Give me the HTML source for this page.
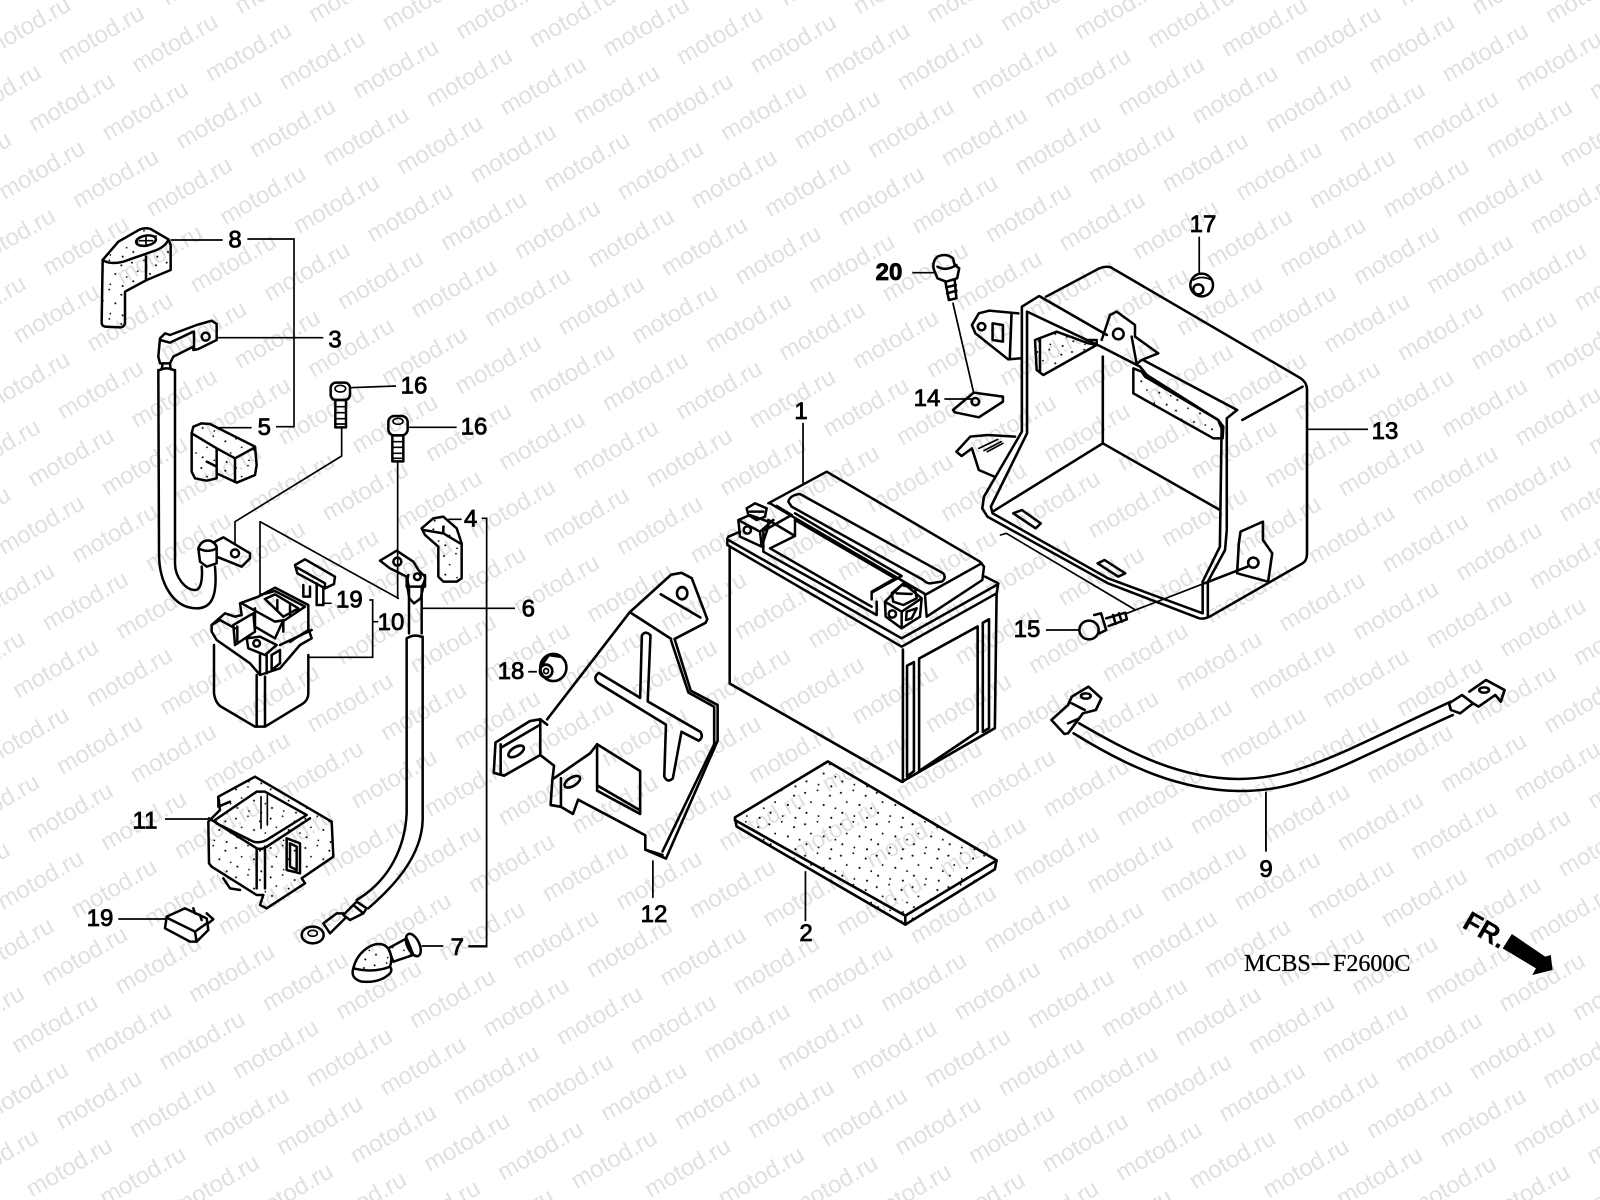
<!DOCTYPE html>
<html><head><meta charset="utf-8"><title>Battery diagram</title>
<style>
html,body{margin:0;padding:0;background:#fff;width:1600px;height:1200px;overflow:hidden}
svg{display:block}
.w{font:24px "Liberation Sans",sans-serif;fill:#e0e0e0}
.l{fill:none;stroke:#000;stroke-width:7.5;stroke-linejoin:round;stroke-linecap:round}
.m{fill:none;stroke:#000;stroke-width:5;stroke-linejoin:round;stroke-linecap:round}
.t{fill:none;stroke:#000;stroke-width:5;stroke-linecap:butt;stroke-linejoin:miter}
.s{fill:url(#d);stroke:#000;stroke-width:7.5;stroke-linejoin:round}
.n{font:72px "Liberation Sans",sans-serif;fill:#000;stroke:#000;stroke-width:2.4;text-anchor:middle}
.r{font:24px "Liberation Sans",sans-serif;fill:#000;stroke:#000;stroke-width:.8;text-anchor:middle}
.k{fill:#000}
</style></head><body>
<svg xmlns="http://www.w3.org/2000/svg" width="1600" height="1200" viewBox="0 0 1600 1200">
<defs>
<pattern id="d" width="104" height="88" patternUnits="userSpaceOnUse">
<circle cx="8" cy="12" r="3"/><circle cx="44" cy="5" r="2.6"/><circle cx="80" cy="20" r="3"/><circle cx="25" cy="38" r="2.6"/><circle cx="62" cy="46" r="3"/><circle cx="96" cy="55" r="2.6"/><circle cx="12" cy="68" r="3"/><circle cx="47" cy="77" r="2.6"/><circle cx="84" cy="82" r="3"/>
</pattern>
<text id="w0" class="w" transform="rotate(-30)">motod.ru</text>
<g id="a1"><use href="#w0"/><use href="#w0" transform="translate(73.6,8.5)"/></g>
<g id="a2"><use href="#a1"/><use href="#a1" transform="translate(147.2,17)"/></g>
<g id="a4"><use href="#a2"/><use href="#a2" transform="translate(294.4,34)"/></g>
<g id="a8"><use href="#a4"/><use href="#a4" transform="translate(588.8,68)"/></g>
<g id="a16"><use href="#a8"/><use href="#a8" transform="translate(1177.6,136)"/></g>
<g id="b1"><use href="#a16"/><use href="#a16" transform="translate(-29.6,67.6)"/></g>
<g id="b2"><use href="#b1"/><use href="#b1" transform="translate(-59.2,135.2)"/></g>
<g id="b4"><use href="#b2"/><use href="#b2" transform="translate(-118.4,270.4)"/></g>
<g id="b8"><use href="#b4"/><use href="#b4" transform="translate(-236.8,540.8)"/></g>
</defs>
<rect width="1600" height="1200" fill="#fff"/>
<g transform="translate(-8.8,-298.5)"><use href="#b8"/><use href="#b4" transform="translate(-473.6,1081.6)"/></g>

<!-- Frame A -->
<g transform="translate(60,200) scale(.33333)">
<path class="s" d="M128,180 L175,125 L240,88 Q258,82 272,87 L325,118 L332,135 L332,210 L260,240 L195,275 L195,370 Q192,382 180,382 L135,380 Q125,378 125,368 Z"/>
<path class="l" d="M128,180 Q150,195 190,185 L290,150 Q315,140 325,120"/>
<ellipse class="l" cx="258" cy="122" rx="30" ry="15" transform="rotate(-10 258 122)"/>
<path class="m" d="M238,122H278M258,112V132"/>
<path class="l" d="M258,170V240"/>
<path class="t" d="M332,120H488M562,117H702V680H648M470,683H575"/>
<text class="n" x="525" y="143">8</text><text class="n" x="613" y="705">5</text>
<path class="s" d="M395,700 L400,680 L425,670 L450,672 L585,740 L590,795 L585,825 L530,848 L470,820 L470,835 L440,842 L405,835 L395,815 Z"/>
<path class="l" d="M395,700 L470,745 L470,820 M470,745 L525,775 L585,742 M525,775 L525,845 M440,785 L470,800"/>
<path class="l" d="M300,415 L315,400 L330,405 L410,375 L455,362 L470,372 L470,420 L415,447 L400,450 L400,440 L340,470 L330,490 L300,490 L295,470 Z"/>
<path class="l" d="M402,395V445M300,420 L330,428 L400,395"/>
<circle class="l" cx="437" cy="410" r="12"/>
<path class="t" d="M470,413H790"/><text class="n" x="825" y="443">3</text>
<path class="l" d="M308,490 L305,508 M330,490 L332,508"/>
<path class="l" d="M295,512 Q320,498 345,512 M295,510 L297,1060 C297,1150 340,1225 410,1225 C460,1225 472,1180 465,1100 M345,510 L345,1090 C345,1130 375,1170 405,1170 C425,1170 428,1130 425,1100"/>
<path class="l" d="M415,1045 L420,1085 L440,1100 L470,1090 L470,1040 M415,1045 Q425,1018 450,1022 Q470,1030 470,1045 Q445,1060 415,1045"/>
<path class="l" d="M465,1025 L490,1012 L570,1060 L570,1075 L545,1100 L470,1070"/>
<circle class="l" cx="525" cy="1060" r="12"/>
<path class="m" d="M525,1030 V965 L845,768 V680"/>
<rect class="l" x="812" y="548" width="58" height="52" rx="16"/><ellipse class="m" cx="841" cy="566" rx="16" ry="10"/>
<rect class="l" x="826" y="600" width="32" height="82"/><path class="m" d="M826,620H858M826,638H858M826,656H858M826,672H858"/>
<path class="t" d="M870,563L1008,558"/><text class="n" x="1062" y="580">16</text>
<rect class="l" x="985" y="648" width="58" height="58" rx="18"/><ellipse class="m" cx="1014" cy="664" rx="15" ry="9"/>
<rect class="l" x="997" y="706" width="33" height="78"/><path class="m" d="M997,725H1030M997,742H1030M997,760H1030M997,775H1030"/>
<path class="t" d="M1043,682H1190"/><text class="n" x="1242" y="703">16</text>
<path class="m" d="M1013,785V1195M600,1185V965L1015,1195"/>
<path class="l" d="M960,1082 L1010,1052 L1060,1085 L1075,1110 L1095,1130 L1095,1160 L1040,1160 L1040,1130 L1010,1115 L990,1105 Z"/>
<circle class="l" cx="1012" cy="1085" r="12"/><circle class="l" cx="1072" cy="1130" r="10"/>
<path class="l" d="M1042,1160 L1048,1195 L1062,1210 L1082,1195 L1090,1160"/>
<path class="l" d="M705,1095 L735,1078 L825,1130 L822,1152 L795,1165 L712,1120 Z M712,1103 L795,1150 V1165"/>
<path class="s" d="M1085,985 L1120,955 L1150,950 L1190,985 L1205,1030 L1205,1135 L1190,1145 L1150,1145 L1135,1130 L1135,1040 L1095,1005 Z"/>
<path class="l" d="M1150,980 V1000 L1200,1030 M1090,990 L1150,1000"/>
<path class="t" d="M1165,958H1205M1265,955H1280V2240H1225"/><text class="n" x="1232" y="980">4</text>
</g>

<!-- Frame B -->
<g transform="translate(60,580) scale(.33333)">
<path class="l" d="M730,15 V50 L750,50 V20 M770,10 V75 L790,75 V25"/>
<path class="t" d="M790,70H815M745,232H938V60H928M938,125H955"/>
<text class="n" x="868" y="82">19</text><text class="n" x="993" y="150">10</text>
<path class="l" d="M462,195 V340 Q465,365 480,378 L585,440 H615 L730,370 Q745,358 745,340 V225 M590,285 V440 M615,290 V440"/>
<path class="l" d="M1047,20 V160 M1085,20 V160 M1047,20 Q1040,0 1045,-15 M1085,20 Q1098,0 1095,-15"/>
<path class="l" d="M1040,175 Q1064,160 1088,172 M1040,175 V700 C1035,800 990,900 890,960 M1088,170 V720 C1085,830 1000,920 925,985"/>
<path class="t" d="M1085,85H1365M1225,1098H1280V0"/><text class="n" x="1405" y="110">6</text>
<path class="l" d="M890,965 L920,985 L910,1000 L880,975 Z M880,975 L850,1005 L870,1020 L910,1000 M850,1000 L830,1000 L790,1030 L810,1060 L855,1015"/>
<ellipse class="l" cx="758" cy="1065" rx="33" ry="25"/><ellipse class="m" cx="758" cy="1060" rx="14" ry="9"/>
<path class="s" d="M475,650 L585,590 L815,725 L820,830 L725,895 L735,910 L620,985 L600,975 L610,945 L590,945 L455,860 L447,850 L445,725 L480,690 Z"/>
<path class="l" d="M465,720 L590,635 H615 L740,705 L620,780 Q600,790 580,785 L470,730 Z"/>
<path class="l" d="M447,715 L590,805 Q605,810 620,800 L750,715 M475,650 V680 L510,665 M590,805 V925 M615,800 V925"/>
<path class="l" d="M680,775 L720,790 V880 L680,870 Z M690,790 L710,800 V870 L690,860 Z"/>
<path class="m" d="M603,650 V745 M622,645 V735"/>
<path class="l" d="M490,895 L510,925 L540,930"/>
<path class="t" d="M315,717H445M175,1017H318"/>
<text class="n" x="255" y="745">11</text><text class="n" x="120" y="1038">19</text>
<path class="l" d="M320,1010 L375,985 L440,1015 L445,1050 L410,1085 L390,1085 L315,1045 Z M320,1013 L405,1055 L410,1085 M405,1055 L440,1030 M400,985 L405,1000 L420,1005 L425,1020 M440,1000 L460,1018 L445,1030"/>
<path class="s" d="M880,1165 C890,1120 930,1090 960,1092 C990,1095 1000,1130 990,1160 Q940,1180 880,1165 Z"/>
<path class="l" d="M880,1165 Q870,1195 905,1205 Q960,1210 990,1180 Q998,1170 990,1160"/>
<path class="s" d="M985,1105 L1040,1075 L1060,1125 L1000,1145 Z"/>
<ellipse class="l" cx="1060" cy="1095" rx="18" ry="36" transform="rotate(-25 1060 1095)"/>
<path class="t" d="M1085,1098H1150"/><text class="n" x="1192" y="1125">7</text>
</g>

<!-- Relay top -->
<g transform="translate(200,575) scale(.33333)">
<path class="l" d="M35,150 L75,115 L105,125 L125,120 L120,85 L175,65 L225,38 L325,90 V160 L335,190 L300,210 L240,280 L180,300 L150,265 L50,195 L35,170 Z"/>
<path class="l" d="M180,60 L225,48 L315,95 L255,135 L225,140 L125,85 M195,72 L225,58 L295,100 L250,125 Z M232,75 V105 M270,90 V120 M165,100 V155 L225,190 L250,135 M250,140 V170 M100,150 L160,115 L165,170 L105,210 Z M112,155 V200 M35,150 L60,135 L105,160 M140,190 L180,185 L230,210 L195,240 L145,220 Z M215,240 L240,225 V265 L215,285 Z M180,240 V295 M200,240 V295 M240,210 L335,165 M270,200 L325,165"/>
<circle class="l" cx="170" cy="205" r="10"/>
</g>

<!-- Frame C -->
<g transform="translate(480,380) scale(.34439,.35714)">
<path class="t" d="M140,817H165M938,120V290M502,1345V1450M945,1375V1515"/>
<circle class="l" cx="213" cy="805" r="38"/><circle class="l" cx="192" cy="815" r="18"/><circle class="m" cx="192" cy="815" r="7"/>
<path class="l" d="M175,805 L200,770 L235,775"/>
<!-- battery body -->
<path class="l" d="M725,470 V850 L1225,1125 L1495,975 L1500,600"/>
<path class="l" d="M1228,755 V1125 M1240,800 V1110 L1260,1095 V790 L1240,800 M1275,780 L1445,690 V985 L1275,1095 Z M1460,680 V985 L1478,975 V670 Z"/>
<!-- bracket -->
<path class="l" d="M435,650 L555,545 L585,540 L615,555 L660,670 L655,680 L565,725 L612,870 L690,910 V1010 L540,1340 L480,1315 V1275 L285,1175 L270,1215 L235,1195 L205,1190 L210,1120 L215,1080 L175,1050 V950 L145,955 L45,1015 L40,1100 L70,1108 L175,1050"/>
<path class="l" d="M195,950 L435,650 L555,725 M525,600 L640,665 M175,950 L195,965 M555,730 L605,875 L680,915 V1020 L530,1320 M480,1315 L530,1330"/>
<ellipse class="l" cx="587" cy="597" rx="15" ry="17"/>
<path class="l" d="M470,715 Q480,700 495,715 L487,900 L640,985 Q650,1000 635,1010 L585,985 L560,1115 Q545,1130 535,1110 L540,965 L345,850 Q325,835 345,820 L465,890 Z"/>
<path class="l" d="M340,1020 L465,1095 V1215 L340,1150 Z M340,1135 L465,1205"/>
<path class="l" d="M60,1020 V1100 M175,965 L60,1030 M215,1115 L320,1045 L340,1020 M235,1115 V1190"/>
<ellipse class="l" cx="105" cy="1040" rx="25" ry="12" transform="rotate(-30 105 1040)"/>
<ellipse class="l" cx="268" cy="1125" rx="25" ry="12" transform="rotate(-30 268 1125)"/>
<!-- mat -->
<path class="s" d="M740,1225 L1010,1068 L1500,1345 L1495,1370 L1235,1525 L745,1250 Z"/>
<path class="l" d="M740,1232 L1235,1500 L1500,1345 M1235,1500 V1525"/>
</g>

<!-- Battery top -->
<g transform="translate(720,470) scale(.33333)">
<path class="l" d="M25,200 L60,185 M22,205 V225 L545,530 L830,370 L835,340 L795,320 M25,210 L545,505 L830,345"/>
<path class="l" d="M145,100 L320,5 L780,275 L792,290 L787,330 L620,440 L615,375 L785,280"/>
<path class="l" d="M205,95 Q210,75 240,72 L670,310 Q680,325 665,335 L630,340 Q620,340 610,330 L215,110 Z"/>
<path class="l" d="M150,100 L615,372 M170,108 L215,135 L135,180 M225,130 L545,318 L455,368 V388 M225,150 L525,325 L455,365"/>
<path class="l" d="M225,150 V198 L150,235 L455,410 M130,185 V245 L470,435 V395 M225,198 L145,150"/>
<path class="l" d="M55,150 L90,135 L145,155 V170 L125,230 L60,200 Z M55,150 L120,185 L125,230 M120,185 L160,150"/>
<path class="l" d="M80,115 L105,100 L140,115 L135,140 L110,150 L85,135 Z M90,125 L130,125"/>
<circle class="l" cx="82" cy="180" r="11"/>
<path class="l" d="M495,395 L550,340 L605,385 L600,440 L545,475 L497,440 Z M495,395 L545,425 L605,385 M545,425 V475"/>
<path class="l" d="M515,370 L545,345 L585,355 L590,385 L550,405 L520,395 Z M530,370 L575,372"/>
<circle class="l" cx="517" cy="432" r="11"/>
<path class="l" d="M560,425 L590,415 L575,445 L558,450 Z"/>
</g>

<!-- Frame D -->
<g transform="translate(860,200) scale(.34439,.33333)">
<path class="t" d="M152,218H215M245,597H325M985,110V225M540,1290H635M1298,688H1475"/>
<path class="l" d="M215,210 Q208,185 225,170 Q250,158 270,175 L275,195 L288,205 L282,235 L250,245 L225,235 Z M225,200 Q250,215 280,195"/>
<path class="l" d="M248,245 L258,300 L280,295 L275,240 M250,262 L278,255 M253,280 L280,272"/>
<path class="m" d="M270,310 L330,578"/>
<path class="l" d="M270,630 L330,578 L415,590 V605 L345,652 L275,637 Z"/><circle class="l" cx="335" cy="605" r="11"/>
<!-- box -->
<path class="l" d="M540,290 L695,205 Q712,197 728,202 L1280,535 Q1298,548 1298,570 V1060 Q1298,1082 1285,1090 L1015,1250 Q1000,1258 985,1255 L720,1150 L370,950 L355,925 L360,890 L470,695 V320 L520,288 L717,405"/>
<path class="l" d="M822,480 L1095,630 L1065,655 V990 L1060,1050 L1010,1145 V1250"/>
<path class="l" d="M485,335 L700,440 L813,500 L833,525 L1040,660 L1050,685 L1045,1040 L995,1145 V1240 L720,1135 L385,940 L380,920 L485,700 Z"/>
<path class="l" d="M705,470 V730 M705,730 L385,935 M705,730 L1045,930 M1110,660 L1285,560 M1000,1150 L1125,1100"/>
<path class="l" d="M445,940 L470,930 L525,970 L510,985 Z M690,1090 L710,1080 L770,1120 L750,1130 Z"/>
<path class="l" d="M460,340 L375,332 L345,340 L325,375 L335,400 L430,478 L465,475 M440,340 L435,475"/>
<path class="l" d="M385,370 L415,375 V425 L385,420 Z"/><circle class="l" cx="353" cy="380" r="11"/>
<path class="l" d="M450,710 L370,705 L320,710 L280,755 L295,768 L325,745 L345,810 L390,830"/>
<path class="m" d="M345,745 L400,718 M360,752 L410,725 M370,755 L415,730"/>
<path class="l" d="M1100,1030 L1105,995 L1170,965 V1020 L1197,1060 L1185,1145 L1095,1120 Z"/>
<circle class="l" cx="1142" cy="1088" r="15"/>
<path class="m" d="M408,1005 L425,1000 L800,1230 M775,1240 L1000,1150"/>
<circle class="l" cx="665" cy="1290" r="28"/>
<path class="l" d="M680,1245 L700,1240 L715,1290 L695,1300 M715,1255 L770,1238 L775,1258 L722,1278 M735,1245 L742,1272 M752,1240 L760,1265"/>
</g>

<!-- Box top detail -->
<g transform="translate(1000,260) scale(.33333)">
<path class="l" d="M305,240 L330,165 L350,155 L405,195 V230 L475,280 L425,300 L410,312 L395,230"/>
<circle class="l" cx="355" cy="222" r="16"/>
<path class="s" d="M105,240 L170,215 L265,250 L290,255 L130,345 L110,330 Z"/>
<path class="l" d="M120,240 V335 M265,240 H290 V255"/>
<path class="s" d="M400,325 L425,335 L435,350 L655,480 L670,500 L668,535 L640,535 L400,400 Z"/>
<circle class="l" cx="605" cy="75" r="34"/>
<circle class="l" cx="595" cy="88" r="15"/>
<path class="m" d="M580,60 Q605,45 635,60"/>
</g>

<!-- Frame E -->
<g transform="translate(1020,660) scale(.36986,.33333)">
<path class="l" d="M160,190 C300,280 430,355 590,357 C760,355 880,270 1165,125 M145,220 C290,320 430,390 590,393 C770,395 880,310 1170,165"/>
<path class="l" d="M85,180 L130,135 L140,110 L185,80 L220,115 L205,150 L170,160 L130,220 L120,222 Z M140,130 L175,150 M130,190 L160,175"/>
<ellipse class="l" cx="178" cy="108" rx="13" ry="8"/>
<path class="l" d="M1160,130 L1195,105 L1225,130 L1190,160 L1165,150 Z M1215,95 L1260,60 L1310,90 L1300,125 L1285,105 L1240,140 L1225,130"/>
<ellipse class="l" cx="1255" cy="90" rx="13" ry="8"/>
<path class="t" d="M665,395V575"/>
<path class="k" d="M1330,822 L1420,890 L1435,885 L1440,930 L1385,945 L1395,925 L1305,865 Z"/>
</g>

<!-- Labels in page coordinates -->
<text class="r" x="511" y="679">18</text>
<text class="r" x="801" y="419">1</text>
<text class="r" x="654" y="922">12</text>
<text class="r" x="806" y="941">2</text>
<text class="r" x="889" y="280" style="font-weight:bold">20</text>
<text class="r" x="927" y="406">14</text>
<text class="r" x="1203" y="232">17</text>
<text class="r" x="1027" y="637">15</text>
<text class="r" x="1385" y="439">13</text>
<text class="r" x="1266" y="877">9</text>
<text x="1244" y="971" style="font:24px 'Liberation Serif',serif;fill:#000;stroke:#000;stroke-width:.3">MCBS<tspan x="1312" y="972" style="font-size:34px">–</tspan><tspan x="1333" y="971">F2600C</tspan></text>
<text transform="translate(1461,927) rotate(30)" style="font:bold 28px 'Liberation Sans',sans-serif;fill:#000">FR.</text>
</svg>
</body></html>
